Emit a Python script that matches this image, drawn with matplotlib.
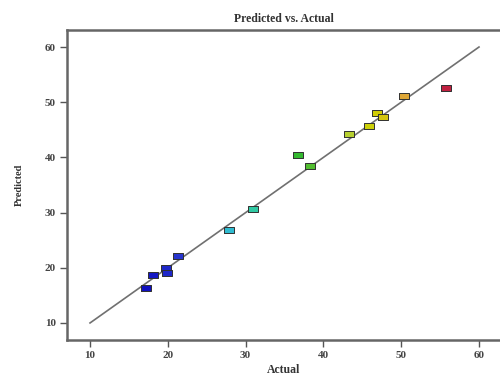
import matplotlib
matplotlib.use("Agg")
import matplotlib.pyplot as plt
from matplotlib.colors import LinearSegmentedColormap, Normalize
import numpy as np

# values
actual = [17.2, 18.1, 19.8, 19.9, 21.3, 27.9, 31.0, 36.7, 38.3, 43.3, 45.9, 46.9, 47.6, 50.4, 55.8]
predicted = [16.3, 18.7, 19.9, 19.0, 22.2, 26.9, 30.7, 40.5, 38.5, 44.2, 45.7, 48.0, 47.4, 51.2, 52.6]
ticks = [10, 20, 30, 40, 50, 60]
fit_line = [10, 60]

cmap = LinearSegmentedColormap.from_list(
    "de",
    [(0.0, "#1010c0"), (0.12, "#2a3ad0"), (0.3, "#30d0d0"), (0.5, "#30b830"),
     (0.68, "#b8d030"), (0.76, "#d0d000"), (0.88, "#e0a040"), (1.0, "#c02040")],
)
norm = Normalize(vmin=min(actual), vmax=max(actual))

plt.rcParams["font.family"] = "Liberation Serif"
plt.rcParams["font.weight"] = "bold"

fig = plt.figure(figsize=(5, 3.76), dpi=100)
ax = fig.add_axes([0.134, 0.096, 0.866, 0.824])

ax.plot(fit_line, fit_line, color="#707070", lw=1.2, zorder=1)

rect = [(-1, -0.72), (1, -0.72), (1, 0.72), (-1, 0.72), (-1, -0.72)]
for a, p in zip(actual, predicted):
    ax.plot(a, p, marker=rect, ms=7, color=cmap(norm(a)),
            mec="#303030", mew=0.7, ls="none", zorder=2)

ax.set_xlim(7.04, 62.7)
ax.set_ylim(6.93, 63.07)
ax.set_xticks(ticks)
ax.set_yticks(ticks)
ax.tick_params(direction="out", length=5, width=1, color="#555555",
               labelsize=8, labelcolor="#444444", pad=3)

for s in ["left", "bottom", "top"]:
    ax.spines[s].set_color("#666666")
    ax.spines[s].set_linewidth(1.8)
ax.spines["right"].set_visible(False)

ax.set_title("Predicted vs. Actual", fontsize=8.5, fontweight="bold", pad=6, color="#333333")
ax.set_xlabel("Actual", fontsize=8.5, fontweight="bold", labelpad=3, color="#333333")
ax.set_ylabel("Predicted", fontsize=7.5, fontweight="bold", labelpad=15, color="#333333")

fig.savefig("out.png", dpi=100)
